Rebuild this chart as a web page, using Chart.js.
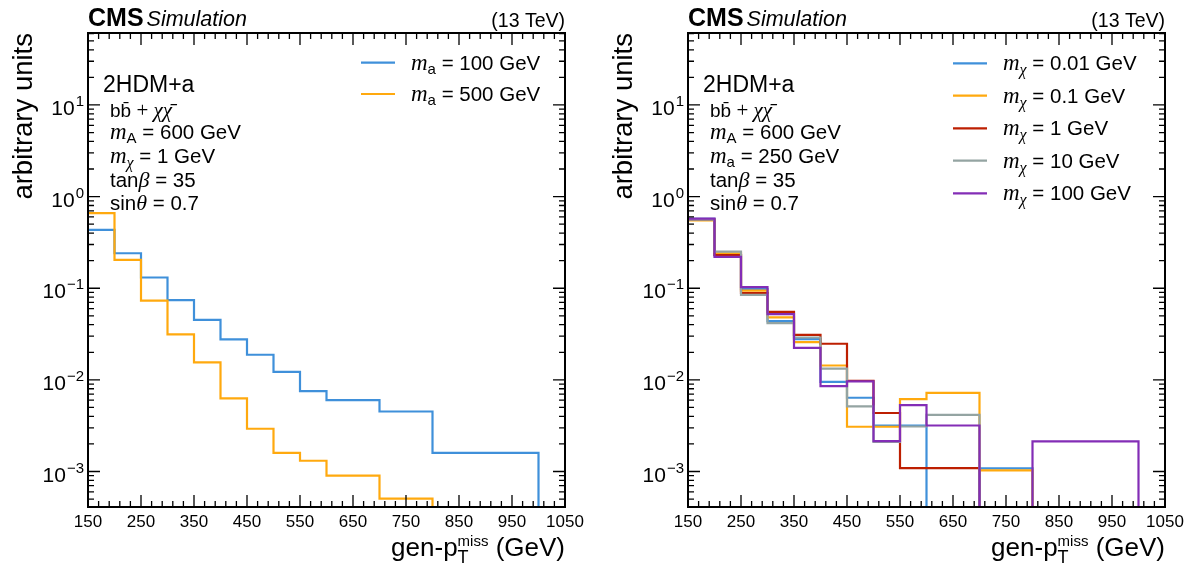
<!DOCTYPE html>
<html>
<head>
<meta charset="utf-8">
<script src="https://cdn.jsdelivr.net/npm/chart.js@4.4.0/dist/chart.umd.min.js"></script>
<style>
  html, body { margin: 0; padding: 0; background: #fff; }
  #wrap { position: relative; width: 1199px; height: 570px; }
  canvas { position: absolute; top: 0; }
  #left { left: 0; }
  #right { left: 600px; }
</style>
</head>
<body>
<div id="wrap">
  <canvas id="left" width="600" height="570"></canvas>
  <canvas id="right" width="599" height="570"></canvas>
</div>
<script>
// bin edges of the gen-pTmiss histograms (GeV)
const binEdges = [150, 200, 250, 300, 350, 400, 450, 500, 550, 600, 700, 800, 1000];
const xTickValues = [150, 250, 350, 450, 550, 650, 750, 850, 950, 1050];
const yTickExponents = [-3, -2, -1, 0, 1];
const yMin = 4.1e-4;
const yMax = 61;

// left panel: m_a scan (m_chi = 1 GeV)
const maLabels = ['100 GeV', '500 GeV'];
const ma100 = [0.433, 0.241, 0.131, 0.0741, 0.0452, 0.0276, 0.0188, 0.0122, 0.00755, 0.00602, 0.00452, 0.0016];
const ma500 = [0.659, 0.204, 0.0734, 0.0313, 0.0155, 0.00627, 0.00293, 0.0016, 0.00131, 0.0009, 0.000505, 0];

// right panel: m_chi scan (m_a = 250 GeV)
const mchiLabels = ['0.01 GeV', '0.1 GeV', '1 GeV', '10 GeV', '100 GeV'];
const mchi001 = [0.57, 0.23, 0.098, 0.0438, 0.0278, 0.00953, 0.00638, 0.00318, 0.00318, 0, 0.00108, 0];
const mchi01 = [0.55, 0.241, 0.0944, 0.048, 0.0258, 0.01436, 0.00308, 0.00308, 0.00617, 0.00723, 0.00103, 0];
const mchi1 = [0.56, 0.23, 0.0883, 0.0553, 0.031, 0.0248, 0.00977, 0.00435, 0.00109, 0.00109, 0, 0];
const mchi10 = [0.56, 0.251, 0.0847, 0.0416, 0.029, 0.0133, 0.00513, 0.0021, 0.0031, 0.00416, 0, 0];
const mchi100 = [0.575, 0.22, 0.103, 0.0521, 0.0224, 0.00855, 0.00961, 0.00215, 0.00531, 0.00318, 0, 0.00213];

const colors = ['#3f90da', '#ffa90e', '#bd1f01', '#94a4a2', '#832db6'];

const SANS = '"Liberation Sans", Arial, sans-serif';
const SERIF = '"Liberation Serif", "Times New Roman", serif';
const MATH = 'italic 23px ' + SERIF;
const BODY = '20.5px ' + SANS;

// step histogram -> points; empty bins sit on the axis floor
function stepPoints(vals) {
  const pts = vals.map((v, i) => ({ x: binEdges[i], y: v }));
  pts.push({ x: binEdges[binEdges.length - 1], y: 0 });
  return pts.map((p, i) => {
    if (p.y !== 0) return p;
    if (i > 0 && pts[i - 1].y === 0) return { x: p.x, y: null };
    return { x: p.x, y: yMin };
  });
}

function drawRuns(ctx, x, y, runs) {
  runs.forEach(([txt, font, dy]) => {
    ctx.font = font;
    ctx.fillText(txt, x, y + (dy || 0));
    x += ctx.measureText(txt).width;
  });
  return x;
}

function infoLines(fourth) {
  return [
    [103, 91.5, [['2HDM+a', '23px ' + SANS]]],
    [110, 116.5, [['bb\u0304', '19px ' + SANS], [' + ', '21px ' + SERIF], ['\u03c7\u03c7\u0304', 'italic 21px ' + SERIF]]],
    [110, 139, [['m', MATH], ['A', '15px ' + SANS, 4], [' = 600 GeV', BODY]]],
    [110, 162.5, fourth],
    [110, 186.5, [['tan', BODY], ['\u03b2', 'italic 22px ' + SERIF], [' = 35', BODY]]],
    [110, 209.5, [['sin', BODY], ['\u03b8', 'italic 22px ' + SERIF], [' = 0.7', BODY]]]
  ];
}

const panelPlugin = {
  id: 'panel',
  afterDatasetsDraw(chart, args, opts) {
    const ctx = chart.ctx;
    const { left, right, top, bottom } = chart.chartArea;
    const xs = chart.scales.x, ys = chart.scales.y;
    ctx.save();
    ctx.fillStyle = '#000';
    ctx.strokeStyle = '#000';

    // inward ticks on all four sides
    ctx.lineWidth = 1.3;
    ctx.beginPath();
    for (let v = 150; v <= 1050; v += 20) {
      const len = xTickValues.includes(v) ? 12 : 6;
      const px = xs.getPixelForValue(v);
      ctx.moveTo(px, bottom); ctx.lineTo(px, bottom - len);
      ctx.moveTo(px, top); ctx.lineTo(px, top + len);
    }
    for (let e = -4; e <= 1; e++) {
      for (let k = 1; k <= 9; k++) {
        const v = k * Math.pow(10, e);
        if (v < yMin || v > yMax) continue;
        const len = k === 1 ? 12 : 6;
        const py = ys.getPixelForValue(v);
        ctx.moveTo(left, py); ctx.lineTo(left + len, py);
        ctx.moveTo(right, py); ctx.lineTo(right - len, py);
      }
    }
    ctx.stroke();

    // frame
    ctx.lineWidth = 2;
    ctx.strokeRect(left, top, right - left, bottom - top);

    // x tick labels
    ctx.font = '17px ' + SANS;
    ctx.textAlign = 'center';
    ctx.textBaseline = 'alphabetic';
    xTickValues.forEach(v => ctx.fillText(String(v), xs.getPixelForValue(v), 527));

    // y tick labels 10^n
    ctx.textAlign = 'left';
    yTickExponents.forEach(n => {
      const py = ys.getPixelForValue(Math.pow(10, n));
      const ex = n < 0 ? '\u2212' + (-n) : String(n);
      ctx.font = '15px ' + SANS;
      const we = ctx.measureText(ex).width;
      ctx.font = '21px ' + SANS;
      const wb = ctx.measureText('10').width;
      const x0 = left - 5 - we - wb;
      ctx.fillText('10', x0, py + 10);
      ctx.font = '15px ' + SANS;
      ctx.fillText(ex, x0 + wb + 1, py + 1);
    });

    // header
    ctx.font = 'bold 25px ' + SANS;
    ctx.fillText('CMS', left, 26);
    const wc = ctx.measureText('CMS').width;
    ctx.font = 'italic 21.5px ' + SANS;
    ctx.fillText('Simulation', left + wc + 3, 26);
    ctx.font = '19.5px ' + SANS;
    ctx.textAlign = 'right';
    ctx.fillText('(13 TeV)', right, 27);
    ctx.textAlign = 'left';

    // x axis title
    const big = '26px ' + SANS, sub = '18px ' + SANS, sup = '15px ' + SANS;
    ctx.font = big;
    const w1 = ctx.measureText('gen-p').width;
    const w3 = ctx.measureText(' (GeV)').width;
    ctx.font = sub;
    const wt = ctx.measureText('T').width;
    ctx.font = sup;
    const wm = ctx.measureText('miss').width;
    const w2 = Math.max(wt, wm);
    let xx = right - (w1 + w2 + w3);
    ctx.font = big;
    ctx.fillText('gen-p', xx, 556);
    xx += w1;
    ctx.font = sub;
    ctx.fillText('T', xx, 563);
    ctx.font = sup;
    ctx.fillText('miss', xx, 546);
    xx += w2;
    ctx.font = big;
    ctx.fillText(' (GeV)', xx, 556);

    // y axis title
    ctx.save();
    ctx.translate(32, top);
    ctx.rotate(-Math.PI / 2);
    ctx.textAlign = 'right';
    ctx.font = '27.5px ' + SANS;
    ctx.fillText('arbitrary units', 0, 0);
    ctx.restore();

    // model text box
    opts.info.forEach(([x, y, runs]) => drawRuns(ctx, x, y, runs));

    // legend
    chart.data.datasets.forEach((ds, i) => {
      const ly = opts.legendRows[i];
      ctx.strokeStyle = ds.borderColor;
      ctx.lineWidth = 2.2;
      ctx.beginPath();
      ctx.moveTo(opts.legendX, ly);
      ctx.lineTo(opts.legendX + 34, ly);
      ctx.stroke();
      ctx.fillStyle = '#000';
      drawRuns(ctx, opts.legendX + 50, ly + 7, [
        ['m', MATH],
        opts.sub,
        [' = ' + ds.label, BODY]
      ]);
    });
    ctx.restore();
  }
};

function makePanel(id, names, series, pluginOpts, rightPad) {
  const datasets = series.map((vals, i) => ({
    label: names[i],
    data: stepPoints(vals),
    borderColor: colors[i],
    borderWidth: 2.2,
    stepped: true,
    pointRadius: 0,
    fill: false,
    spanGaps: false,
    order: series.length - i
  }));
  return new Chart(document.getElementById(id), {
    type: 'line',
    data: { datasets },
    plugins: [panelPlugin],
    options: {
      responsive: false,
      animation: false,
      devicePixelRatio: 1,
      layout: { padding: { left: 88, right: rightPad, top: 33, bottom: 63 } },
      scales: {
        x: { type: 'linear', min: 150, max: 1050, display: false },
        y: { type: 'logarithmic', min: yMin, max: yMax, display: false }
      },
      plugins: {
        legend: { display: false },
        tooltip: { enabled: false },
        panel: pluginOpts
      }
    }
  });
}

makePanel('left', maLabels, [ma100, ma500], {
  info: infoLines([['m', MATH], ['\u03c7', 'italic 16px ' + SERIF, 5], [' = 1 GeV', BODY]]),
  legendX: 361,
  legendRows: [62.7, 94],
  sub: ['a', '15px ' + SANS, 4]
}, 35);

makePanel('right', mchiLabels, [mchi001, mchi01, mchi1, mchi10, mchi100], {
  info: infoLines([['m', MATH], ['a', '15px ' + SANS, 4], [' = 250 GeV', BODY]]),
  legendX: 353,
  legendRows: [63.3, 95.7, 128.3, 160.7, 193.3],
  sub: ['\u03c7', 'italic 16px ' + SERIF, 5]
}, 34);
</script>
</body>
</html>
